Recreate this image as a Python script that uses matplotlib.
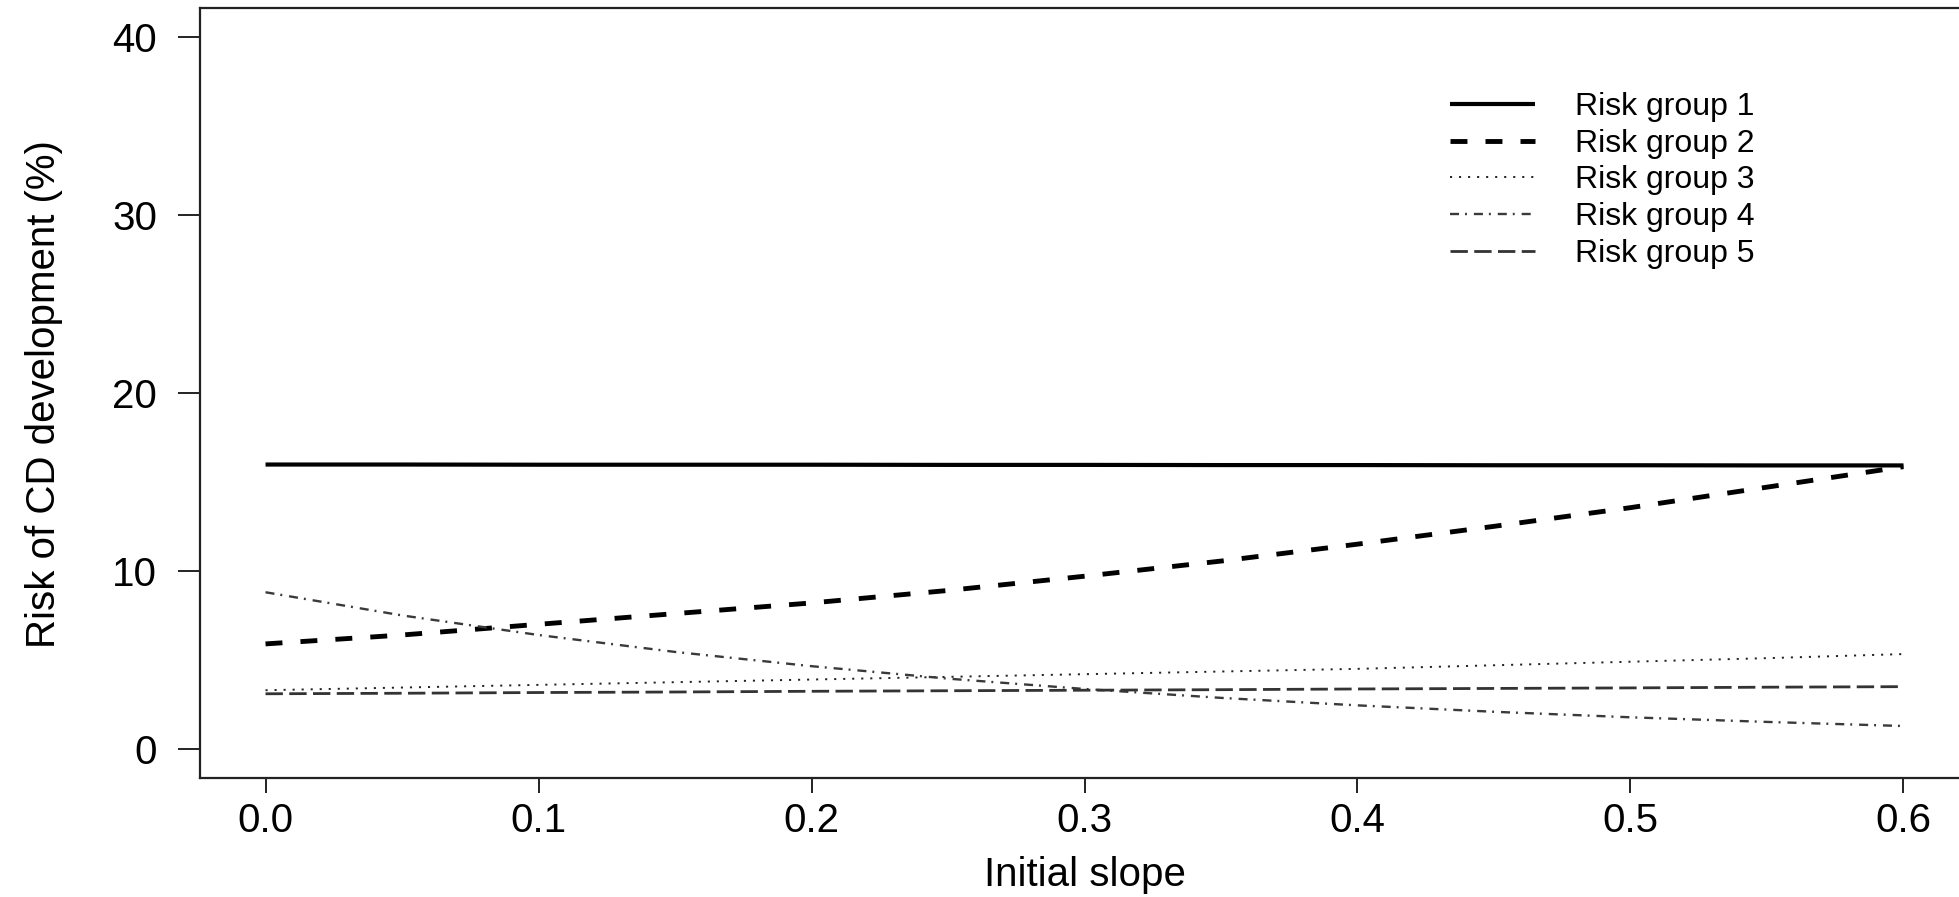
import matplotlib
matplotlib.use("Agg")
import matplotlib.pyplot as plt

plt.rcParams['font.family'] = ['Liberation Sans', 'DejaVu Sans']
plt.rcParams['lines.scale_dashes'] = False

# ---- data ----
initial_slope = [0.00, 0.05, 0.10, 0.15, 0.20, 0.25, 0.30, 0.35, 0.40, 0.45, 0.50, 0.55, 0.60]
risk_group_1 = [15.97, 15.97, 15.96, 15.96, 15.96, 15.95, 15.95, 15.94, 15.94, 15.93, 15.93, 15.92, 15.92]
risk_group_2 = [5.90, 6.40, 7.00, 7.60, 8.20, 8.90, 9.70, 10.55, 11.50, 12.50, 13.55, 14.70, 15.85]
risk_group_3 = [3.30, 3.45, 3.60, 3.75, 3.90, 4.05, 4.20, 4.35, 4.50, 4.70, 4.90, 5.10, 5.33]
risk_group_4 = [8.80, 7.50, 6.40, 5.45, 4.65, 3.95, 3.37, 2.87, 2.45, 2.09, 1.78, 1.52, 1.29]
risk_group_5 = [3.10, 3.13, 3.17, 3.20, 3.24, 3.27, 3.30, 3.33, 3.37, 3.40, 3.43, 3.47, 3.50]

series_labels = ["Risk group 1", "Risk group 2", "Risk group 3", "Risk group 4", "Risk group 5"]
x_ticks = [0.0, 0.1, 0.2, 0.3, 0.4, 0.5, 0.6]
x_tick_labels = ["0.0", "0.1", "0.2", "0.3", "0.4", "0.5", "0.6"]
y_ticks = [0, 10, 20, 30, 40]
y_tick_labels = ["0", "10", "20", "30", "40"]
x_label = "Initial slope"
y_label = "Risk of CD development (%)"

W, H = 1959, 897
fig = plt.figure(figsize=(W / 100, H / 100), dpi=100)
fig.patch.set_facecolor("white")

left, right, bottom, top = 200, 1969, 777.5, 8
ax = fig.add_axes([left / W, 1 - bottom / H, (right - left) / W, (bottom - top) / H])

ax.plot(initial_slope, risk_group_1, color="black", lw=3.0, ls="-",
        solid_capstyle="butt", label=series_labels[0])
ax.plot(initial_slope, risk_group_2, color="black", lw=3.5, ls=(0, (12.2, 13.0)),
        dash_capstyle="butt", label=series_labels[1])
ax.plot(initial_slope, risk_group_3, color="#222222", lw=1.4, ls=(0, (1.5, 5.0)),
        dash_capstyle="butt", label=series_labels[2])
ax.plot(initial_slope, risk_group_4, color="#3a3a3a", lw=1.7, ls=(0, (6.5, 4.3, 1.4, 5.0)),
        dash_capstyle="butt", label=series_labels[3])
ax.plot(initial_slope, risk_group_5, color="#333333", lw=2.0, ls=(0, (12.5, 4.6)),
        dash_capstyle="butt", label=series_labels[4])

ax.set_xlim(-0.024, 0.624)
ax.set_ylim(-1.6, 41.6)

ax.set_xticks(x_ticks)
ax.set_xticklabels(x_tick_labels)
ax.set_yticks(y_ticks)
ax.set_yticklabels(y_tick_labels)
ax.tick_params(axis="x", direction="out", length=10.8, width=1.4, pad=6.5, labelsize=29, color="#222222")
ax.tick_params(axis="y", direction="out", length=15.8, width=1.4, pad=15, labelsize=29, color="#222222")

for sp in ax.spines.values():
    sp.set_linewidth(1.6)
    sp.set_color("#222222")

ax.set_xlabel(x_label, fontsize=29, labelpad=12)
fig.text(44 / W, 1 - 394 / H, y_label, rotation=90, ha="center", va="center", fontsize=29)

leg = ax.legend(loc="upper left", bbox_to_anchor=(1450 / W, 1 - 92 / H),
                bbox_transform=fig.transFigure, frameon=False, fontsize=23,
                handlelength=2.66, handletextpad=1.25, labelspacing=0.21,
                borderpad=0, borderaxespad=0)

fig.savefig("out.png", dpi=100, facecolor="white")
